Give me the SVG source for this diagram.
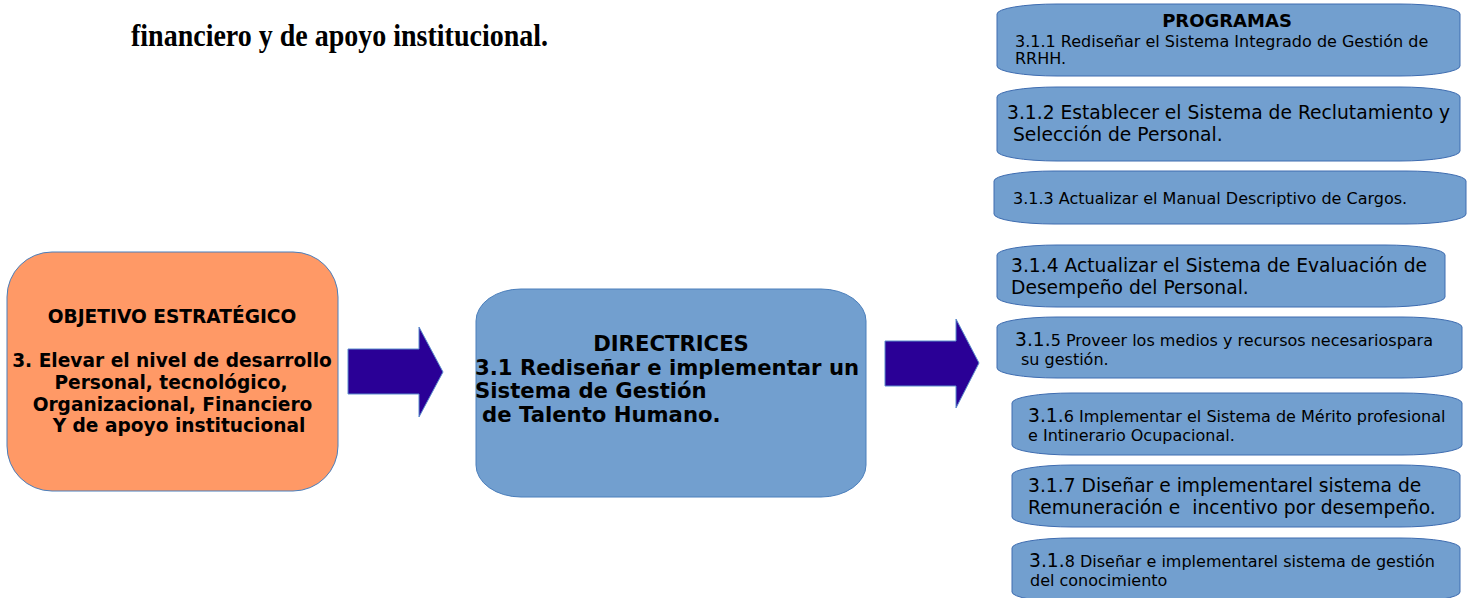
<svg xmlns="http://www.w3.org/2000/svg" width="1468" height="598" viewBox="0 0 1468 598">
<style>
.t{font-family:"DejaVu Sans","Liberation Sans",sans-serif;fill:#000}
.b{font-weight:bold}
.c{text-anchor:middle}
.s{font-size:16px}
.m{font-size:18.7px}
.o{font-size:18.6px}
.prog{fill:#729fcf;stroke:#3e6cb0;stroke-width:1}
.arrow{fill:#2a0096;stroke:#5b8ccc;stroke-width:1}
</style>
<rect width="1468" height="598" fill="#ffffff"/>
<text x="131" y="46" font-family="Liberation Serif, serif" font-weight="bold" font-size="32" textLength="417" lengthAdjust="spacingAndGlyphs">financiero y de apoyo institucional.</text>

<g id="objetivo">
<rect x="7" y="252" width="331" height="239" rx="45" ry="45" fill="#ff9966" stroke="#4a7ebb" stroke-width="1"/>
<text class="t b c o" x="172" y="323">OBJETIVO ESTRATÉGICO</text>
<text class="t b c o" x="172" y="367">3. Elevar el nivel de desarrollo</text>
<text class="t b c o" x="171" y="389">Personal, tecnológico,</text>
<text class="t b c o" x="172.5" y="411">Organizacional, Financiero</text>
<text class="t b c o" x="179" y="432">Y de apoyo institucional</text>
</g>

<g id="directrices">
<rect x="476" y="289" width="390" height="208" rx="45" ry="32" fill="#729fcf" stroke="#4a7ebb" stroke-width="1"/>
<text class="t b c" font-size="21.2" x="671" y="351">DIRECTRICES</text>
<text class="t b" font-size="21.2" x="475" y="375">3.1 Rediseñar e implementar un</text>
<text class="t b" font-size="21.2" x="475" y="398">Sistema de Gestión</text>
<text class="t b" font-size="21.2" x="482" y="422">de Talento Humano.</text>
</g>

<g id="connectors">
<polygon class="arrow" points="348,349 419,349 419,327 443,372 419,417 419,394 348,394"/>
<polygon class="arrow" points="885,341 956,341 956,319 979,363 956,408 956,386 885,386"/>
</g>

<g id="p1">
<rect class="prog" x="997" y="4" width="463" height="72" rx="60" ry="10"/>
<text class="t b c" font-size="18" x="1227" y="27">PROGRAMAS</text>
<text class="t" font-size="16" x="1015" y="47">3.1.1 Rediseñar el Sistema Integrado de Gestión de</text>
<text class="t" font-size="16" x="1015" y="64">RRHH.</text>
</g>
<g id="p2">
<rect class="prog" x="997" y="87" width="463" height="74" rx="60" ry="10"/>
<text class="t m" x="1007" y="119">3.1.2 Establecer el Sistema de Reclutamiento y</text>
<text class="t m" x="1013" y="141">Selección de Personal.</text>
</g>
<g id="p3">
<rect class="prog" x="994" y="171" width="472" height="53" rx="60" ry="10"/>
<text class="t" font-size="16" x="1013" y="204">3.1.3 Actualizar el Manual Descriptivo de Cargos.</text>
</g>
<g id="p4">
<rect class="prog" x="997" y="245" width="448" height="62" rx="60" ry="10"/>
<text class="t m" x="1011" y="272">3.1.4 Actualizar el Sistema de Evaluación de</text>
<text class="t m" x="1011" y="294">Desempeño del Personal.</text>
</g>
<g id="p5">
<rect class="prog" x="997" y="317" width="465" height="61" rx="60" ry="10"/>
<text class="t" x="1015" y="346"><tspan class="m">3.1.</tspan><tspan class="s">5 Proveer los medios y recursos necesariospara</tspan></text>
<text class="t s" x="1021" y="365">su gestión.</text>
</g>
<g id="p6">
<rect class="prog" x="1012" y="393" width="450" height="62" rx="60" ry="10"/>
<text class="t" x="1028" y="422"><tspan class="m">3.1.</tspan><tspan class="s">6 Implementar el Sistema de Mérito profesional</tspan></text>
<text class="t s" x="1028" y="441">e Intinerario Ocupacional.</text>
</g>
<g id="p7">
<rect class="prog" x="1012" y="465" width="448" height="62" rx="60" ry="10"/>
<text class="t m" x="1028" y="492">3.1.7 Diseñar e implementarel sistema de</text>
<text class="t m" x="1028" y="514" xml:space="preserve">Remuneración e  incentivo por desempeño.</text>
</g>
<g id="p8">
<rect class="prog" x="1012" y="538" width="448" height="64" rx="60" ry="10"/>
<text class="t" x="1029" y="567"><tspan class="m">3.1.</tspan><tspan class="s">8 Diseñar e implementarel sistema de gestión</tspan></text>
<text class="t s" x="1030" y="586">del conocimiento</text>
</g>
</svg>
